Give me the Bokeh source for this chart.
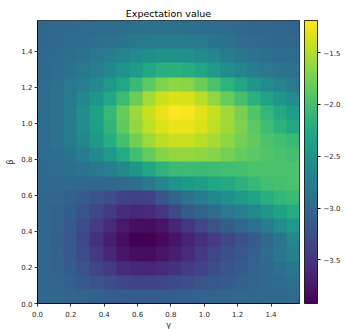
import numpy as np
from bokeh.plotting import figure
from bokeh.models import (LinearColorMapper, ColorBar, FixedTicker,
                          CustomJSTickFormatter, Range1d)
from bokeh.palettes import Viridis256
from bokeh.embed import file_html
from bokeh.resources import INLINE

# ---- data ----
gamma_ticks = [0.0, 0.2, 0.4, 0.6, 0.8, 1.0, 1.2, 1.4]
beta_ticks = [0.0, 0.2, 0.4, 0.6, 0.8, 1.0, 1.2, 1.4]
cbar_ticks = [-3.5, -3.0, -2.5, -2.0, -1.5]
gamma_extent = [0.0, 1.5708]
beta_extent = [0.0, 1.5708]

# rows of expectation values, bottom (beta ~ 0) to top (beta ~ pi/2),
# each row left (gamma ~ 0) to right (gamma ~ pi/2)
row_b00 = [-3.00,-3.01,-3.03,-3.05,-3.07,-3.09,-3.10,-3.11,-3.11,-3.10,-3.09,-3.08,-3.06,-3.05,-3.03,-3.02,-3.01,-2.99,-2.98,-2.97]
row_b01 = [-3.00,-3.03,-3.08,-3.15,-3.22,-3.29,-3.34,-3.37,-3.37,-3.35,-3.31,-3.27,-3.22,-3.17,-3.12,-3.08,-3.03,-2.99,-2.95,-2.92]
row_b02 = [-3.00,-3.05,-3.12,-3.22,-3.35,-3.47,-3.57,-3.62,-3.63,-3.59,-3.52,-3.45,-3.37,-3.28,-3.20,-3.13,-3.06,-2.99,-2.92,-2.85]
row_b03 = [-3.00,-3.06,-3.16,-3.30,-3.47,-3.62,-3.75,-3.82,-3.83,-3.78,-3.69,-3.58,-3.46,-3.35,-3.25,-3.17,-3.08,-2.97,-2.84,-2.72]
row_b04 = [-3.00,-3.07,-3.18,-3.33,-3.52,-3.69,-3.82,-3.92,-3.90,-3.86,-3.77,-3.66,-3.55,-3.45,-3.34,-3.24,-3.13,-3.00,-2.85,-2.66]
row_b05 = [-3.00,-3.06,-3.15,-3.29,-3.44,-3.60,-3.73,-3.81,-3.82,-3.77,-3.63,-3.48,-3.34,-3.22,-3.12,-3.01,-2.90,-2.77,-2.60,-2.45]
row_b06 = [-3.00,-3.04,-3.12,-3.22,-3.34,-3.46,-3.56,-3.62,-3.60,-3.50,-3.32,-3.15,-3.05,-2.94,-2.84,-2.74,-2.62,-2.48,-2.34,-2.24]
row_b07 = [-3.00,-3.02,-3.07,-3.13,-3.20,-3.28,-3.36,-3.40,-3.36,-3.22,-3.03,-2.88,-2.77,-2.66,-2.55,-2.45,-2.33,-2.21,-2.11,-2.06]
row_b08 = [-2.99,-2.98,-2.99,-3.00,-3.00,-3.00,-2.98,-2.93,-2.82,-2.68,-2.52,-2.43,-2.38,-2.32,-2.25,-2.17,-2.09,-2.02,-1.98,-1.97]
row_b09 = [-2.98,-2.95,-2.92,-2.88,-2.82,-2.74,-2.63,-2.48,-2.30,-2.15,-2.06,-2.05,-2.06,-2.05,-2.02,-1.99,-1.96,-1.95,-1.95,-1.96]
row_b10 = [-2.97,-2.93,-2.86,-2.76,-2.62,-2.45,-2.24,-2.02,-1.83,-1.70,-1.63,-1.62,-1.64,-1.69,-1.76,-1.83,-1.89,-1.93,-1.97,-2.00]
row_b11 = [-2.97,-2.90,-2.80,-2.65,-2.45,-2.23,-1.99,-1.77,-1.59,-1.47,-1.42,-1.42,-1.47,-1.55,-1.65,-1.76,-1.86,-1.95,-2.02,-2.08]
row_b12 = [-2.96,-2.89,-2.77,-2.60,-2.38,-2.13,-1.87,-1.63,-1.45,-1.33,-1.27,-1.28,-1.34,-1.45,-1.58,-1.73,-1.88,-2.03,-2.16,-2.26]
row_b13 = [-2.96,-2.89,-2.76,-2.58,-2.34,-2.09,-1.83,-1.59,-1.41,-1.28,-1.19,-1.22,-1.30,-1.43,-1.58,-1.75,-1.93,-2.11,-2.27,-2.40]
row_b14 = [-2.96,-2.89,-2.79,-2.66,-2.49,-2.28,-2.05,-1.80,-1.57,-1.40,-1.33,-1.36,-1.47,-1.63,-1.82,-2.00,-2.18,-2.35,-2.48,-2.60]
row_b15 = [-2.97,-2.91,-2.83,-2.74,-2.62,-2.46,-2.28,-2.08,-1.88,-1.72,-1.65,-1.68,-1.80,-1.97,-2.15,-2.32,-2.47,-2.60,-2.70,-2.78]
row_b16 = [-2.98,-2.94,-2.89,-2.83,-2.75,-2.65,-2.53,-2.41,-2.29,-2.21,-2.19,-2.23,-2.32,-2.44,-2.57,-2.68,-2.77,-2.84,-2.88,-2.90]
row_b17 = [-2.99,-2.96,-2.93,-2.89,-2.84,-2.77,-2.70,-2.62,-2.56,-2.52,-2.52,-2.55,-2.61,-2.68,-2.76,-2.83,-2.88,-2.92,-2.95,-2.96]
row_b18 = [-3.00,-2.98,-2.96,-2.94,-2.92,-2.89,-2.86,-2.82,-2.79,-2.77,-2.77,-2.79,-2.82,-2.86,-2.90,-2.94,-2.97,-2.99,-3.01,-3.01]
row_b19 = [-3.00,-2.99,-2.98,-2.97,-2.96,-2.94,-2.93,-2.91,-2.90,-2.90,-2.90,-2.91,-2.93,-2.95,-2.97,-2.99,-3.01,-3.02,-3.03,-3.04]

rows = [row_b00, row_b01, row_b02, row_b03, row_b04, row_b05, row_b06, row_b07,
        row_b08, row_b09, row_b10, row_b11, row_b12, row_b13, row_b14, row_b15,
        row_b16, row_b17, row_b18, row_b19]
Z = np.array(rows, dtype=float)

FONT = "DejaVu Sans"
TXT = "#262626"

mapper = LinearColorMapper(palette=Viridis256, low=float(Z.min()), high=float(Z.max()))

p = figure(frame_width=262, frame_height=283,
           x_range=Range1d(gamma_extent[0], gamma_extent[1]),
           y_range=Range1d(beta_extent[0], beta_extent[1]),
           output_backend="svg", toolbar_location=None,
           title="Expectation value",
           min_border_left=28, min_border_top=8, min_border_bottom=18,
           min_border_right=0)
p.margin = (4, 0, 0, 3)
p.background_fill_color = "white"
p.border_fill_color = "white"
p.outline_line_color = "black"
p.outline_line_width = 0.8
p.grid.visible = False

p.image(image=[Z], x=gamma_extent[0], y=beta_extent[0],
        dw=gamma_extent[1] - gamma_extent[0], dh=beta_extent[1] - beta_extent[0],
        color_mapper=mapper)

p.title.text_font = FONT
p.title.text_font_size = "9.5px"
p.title.text_font_style = "normal"
p.title.text_color = "black"
p.title.align = "center"
p.title.standoff = 3

fmt = CustomJSTickFormatter(code="return tick.toFixed(1);")
for ax, ticks, lab, st in ((p.xaxis[0], gamma_ticks, "γ", 1), (p.yaxis[0], beta_ticks, "β", 3)):
    ax.ticker = FixedTicker(ticks=ticks)
    ax.formatter = fmt
    ax.axis_label = lab
    ax.axis_label_text_font = FONT
    ax.axis_label_text_font_size = "8px"
    ax.axis_label_text_font_style = "normal"
    ax.axis_label_text_color = TXT
    ax.axis_label_standoff = st
    ax.major_label_text_font = FONT
    ax.major_label_text_font_size = "7px"
    ax.major_label_text_color = TXT
    ax.major_label_standoff = 2
    ax.major_tick_out = 3
    ax.major_tick_in = 0
    ax.major_tick_line_color = "black"
    ax.major_tick_line_width = 0.8
    ax.minor_tick_line_color = None
    ax.axis_line_color = "black"
    ax.axis_line_width = 0.8
p.xaxis[0].major_label_standoff = 4

cb = ColorBar(color_mapper=mapper, width=13, height=283,
              ticker=FixedTicker(ticks=cbar_ticks),
              formatter=CustomJSTickFormatter(code="return tick.toFixed(1).replace('-', '\u2212');"),
              major_label_text_font=FONT, major_label_text_font_size="7px",
              major_label_text_color=TXT,
              major_tick_out=3, major_tick_in=0, major_tick_line_color="black",
              minor_tick_line_color=None,
              bar_line_color="black", bar_line_width=0.8,
              border_line_color=None, background_fill_color=None,
              padding=0, margin=0, label_standoff=3, location=(5, 0))
p.add_layout(cb, "right")

open("out.html", "w").write(file_html(p, INLINE))
